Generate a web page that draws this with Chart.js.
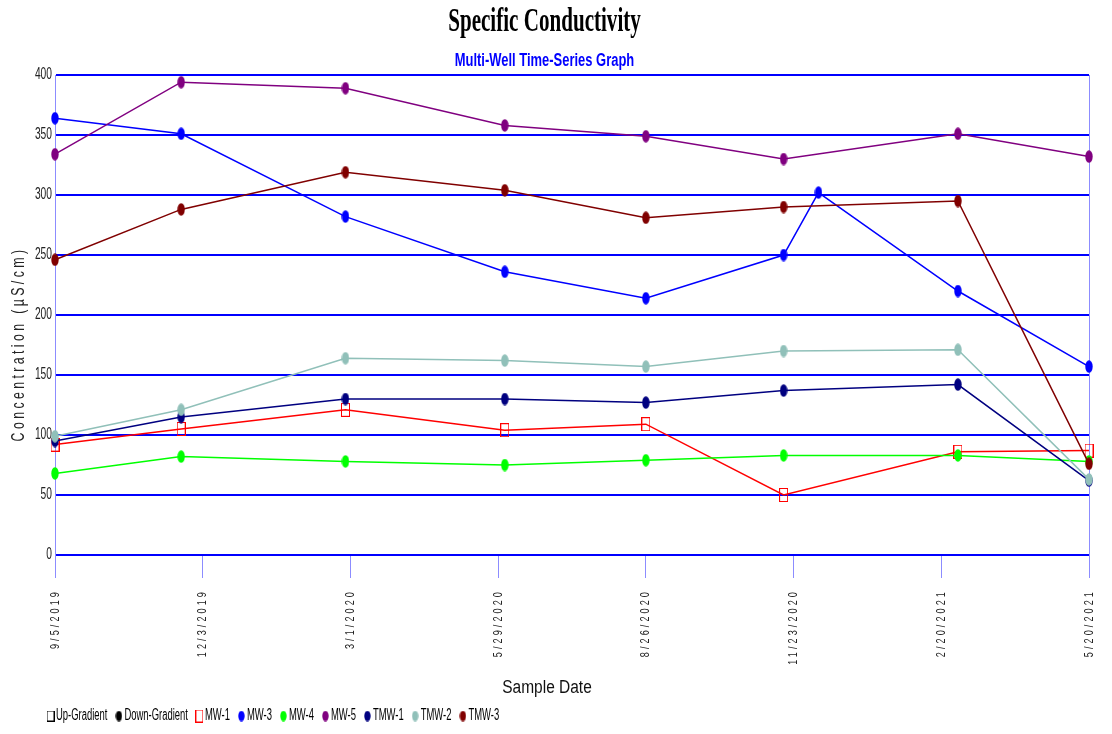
<!DOCTYPE html>
<html>
<head>
<meta charset="utf-8">
<title>Specific Conductivity</title>
<script src="https://cdn.jsdelivr.net/npm/chart.js@4.4.1/dist/chart.umd.min.js"></script>
<style>
  html, body { margin: 0; padding: 0; background: #fff; }
  #chart { display: block; }
</style>
</head>
<body>
<canvas id="chart" width="1112" height="734"></canvas>
<script>
// sample dates (most wells share them, MW-3 has one extra in Dec 2020)
const sampleDates = ["2019-09-05", "2019-11-20", "2020-02-27", "2020-06-02", "2020-08-26", "2020-11-17", "2021-03-02", "2021-05-20"];
const mw3Dates = ["2019-09-05", "2019-11-20", "2020-02-27", "2020-06-02", "2020-08-26", "2020-11-17", "2020-12-08", "2021-03-02", "2021-05-20"];
const tickDates = ["2019-09-05", "2019-12-03", "2020-03-01", "2020-05-29", "2020-08-26", "2020-11-23", "2021-02-20", "2021-05-20"];

// uS/cm
const mw1 = [92, 105, 121, 104, 109, 50, 86, 87];
const mw3 = [364, 351, 282, 236, 214, 250, 302, 220, 157];
const mw4 = [68, 82, 78, 75, 79, 83, 83, 78];
const mw5 = [334, 394, 389, 358, 349, 330, 351, 332];
const tmw1 = [95, 115, 130, 130, 127, 137, 142, 62];
const tmw2 = [99, 121, 164, 162, 157, 170, 171, 63];
const tmw3 = [246, 288, 319, 304, 281, 290, 295, 76];

const TITLE = "Specific Conductivity";
const SUBTITLE = "Multi-Well Time-Series Graph";
const SANS = "'Liberation Sans', Arial, sans-serif";
const SERIF = "'Liberation Serif', 'Times New Roman', serif";

const dayNum = (s) => {
  const [y, m, d] = s.split("-").map(Number);
  return Date.UTC(y, m - 1, d) / 86400000;
};
const fmtDay = (v) => {
  const d = new Date(v * 86400000);
  return `${d.getUTCMonth() + 1}/${d.getUTCDate()}/${d.getUTCFullYear()}`;
};
const toXY = (dates, vals) => dates.map((d, i) => ({ x: dayNum(d), y: vals[i] }));

// markers look like tall ellipses in the original
const ellipseMark = (color, w = 8, h = 13) => {
  const c = document.createElement("canvas");
  c.width = w;
  c.height = h;
  const g = c.getContext("2d");
  g.fillStyle = color;
  g.beginPath();
  g.ellipse(w / 2, h / 2, w / 2 - 0.3, h / 2 - 0.3, 0, 0, Math.PI * 2);
  g.fill();
  return c;
};
const boxMark = (color, w = 9, h = 14) => {
  const c = document.createElement("canvas");
  c.width = w;
  c.height = h;
  const g = c.getContext("2d");
  g.strokeStyle = color;
  g.lineWidth = 1;
  g.strokeRect(0.5, 0.5, w - 1, h - 1);
  return c;
};

const series = [
  { label: "MW-1", dates: sampleDates, values: mw1, color: "#ff0000", mark: boxMark("#ff0000") },
  { label: "MW-3", dates: mw3Dates, values: mw3, color: "#0000ff" },
  { label: "MW-4", dates: sampleDates, values: mw4, color: "#00ff00" },
  { label: "MW-5", dates: sampleDates, values: mw5, color: "#800080" },
  { label: "TMW-1", dates: sampleDates, values: tmw1, color: "#000080" },
  { label: "TMW-2", dates: sampleDates, values: tmw2, color: "#90c0b9" },
  { label: "TMW-3", dates: sampleDates, values: tmw3, color: "#800000" }
];

const datasets = series.map((s, i) => ({
  label: s.label,
  data: toXY(s.dates, s.values),
  borderColor: s.color,
  backgroundColor: s.color,
  borderWidth: 1.5,
  tension: 0,
  pointStyle: s.mark || ellipseMark(s.color),
  pointRadius: 5,
  clip: false,
  order: series.length - i
}));

// the original uses a very condensed font: squeeze text in its own frame (k),
// space the letters (sp) and nudge it along the text direction (dx)
const squeeze = (obj, method, k, sp = 0, dx = 0) => {
  const orig = obj[method];
  obj[method] = function (...args) {
    const ctx = this.ctx;
    const fill = ctx.fillText;
    const measure = ctx.measureText;
    ctx.fillText = function (text, x, y, maxW) {
      this.save();
      this.translate(x + dx, y);
      this.scale(k, 1);
      this.letterSpacing = sp + "px";
      if (maxW === undefined) fill.call(this, text, 0, 0);
      else fill.call(this, text, 0, 0, maxW / k);
      this.restore();
    };
    ctx.measureText = function (text) {
      const m = measure.call(this, text);
      return {
        width: m.width * k,
        actualBoundingBoxAscent: m.actualBoundingBoxAscent,
        actualBoundingBoxDescent: m.actualBoundingBoxDescent
      };
    };
    try {
      orig.apply(this, args);
    } finally {
      delete ctx.fillText;
      delete ctx.measureText;
    }
  };
};

const condensed = {
  id: "condensed",
  beforeDraw(chart) {
    if (chart._condensed) return;
    chart._condensed = true;
    chart.boxes.forEach((box) => {
      if (box === chart.scales.x) {
        squeeze(box, "drawLabels", 0.7, 4.4);
        squeeze(box, "drawTitle", 0.86, 0, -25);
      } else if (box === chart.scales.y) {
        squeeze(box, "drawLabels", 0.64);
        squeeze(box, "drawTitle", 0.65, 5.2, -29);
      } else if (box === chart.legend) {
        squeeze(box, "draw", 0.59, 0, -3);
      } else if (box.options && box.options.text === TITLE) {
        squeeze(box, "draw", 0.62);
      } else if (box.options && box.options.text === SUBTITLE) {
        squeeze(box, "draw", 0.72);
      }
    });
  }
};

const legendShift = {
  id: "legendShift",
  afterLayout(chart) {
    chart.legend.left = 42;
  }
};

const lastTick = tickDates.length - 1;

new Chart(document.getElementById("chart"), {
  type: "line",
  data: { datasets },
  options: {
    responsive: false,
    animation: false,
    devicePixelRatio: 1,
    layout: { padding: { right: 23 } },
    plugins: {
      title: {
        display: true,
        text: TITLE,
        color: "#000",
        font: { family: SERIF, size: 34, weight: "bold" },
        padding: { top: 1.6, bottom: 0 }
      },
      subtitle: {
        display: true,
        text: SUBTITLE,
        color: "#0000ff",
        font: { family: SANS, size: 18, weight: "bold" },
        padding: { top: 7.8, bottom: 3.2 }
      },
      legend: {
        position: "bottom",
        align: "start",
        labels: {
          usePointStyle: true,
          pointStyleWidth: 1,
          color: "#111",
          padding: 8,
          font: { family: SANS, size: 16 },
          generateLabels: (chart) => [
            { text: "Up-Gradient", pointStyle: boxMark("#000", 8, 11), fillStyle: "#000", strokeStyle: "#000", lineWidth: 0 },
            { text: "Down-Gradient", pointStyle: ellipseMark("#000", 7, 11), fillStyle: "#000", strokeStyle: "#000", lineWidth: 0 },
            ...chart.data.datasets.map((ds, i) => ({
              text: ds.label,
              pointStyle: i === 0 ? boxMark(ds.borderColor, 8, 13) : ellipseMark(ds.borderColor, 7, 11),
              fillStyle: ds.borderColor,
              strokeStyle: ds.borderColor,
              lineWidth: 0,
              datasetIndex: i
            }))
          ]
        }
      },
      tooltip: { enabled: false }
    },
    scales: {
      x: {
        type: "linear",
        min: dayNum(tickDates[0]),
        max: dayNum(tickDates[lastTick]),
        afterBuildTicks: (s) => {
          s.ticks = tickDates.map((d) => ({ value: dayNum(d) }));
        },
        afterFit: (s) => {
          s.height = 145;
          s.paddingLeft = 0;
          s.paddingRight = 0;
        },
        ticks: {
          autoSkip: false,
          minRotation: 90,
          maxRotation: 90,
          padding: 11,
          color: "#222",
          font: { family: SANS, size: 13 },
          callback: (v) => fmtDay(v)
        },
        grid: {
          color: (c) => (c.index === lastTick ? "#8c8cff" : "rgba(0,0,0,0)"),
          tickColor: "#8c8cff",
          tickLength: 23,
          lineWidth: 1
        },
        border: { display: false },
        title: {
          display: true,
          text: "Sample Date",
          color: "#111",
          font: { family: SANS, size: 18 },
          padding: { top: 0, bottom: 1 }
        }
      },
      y: {
        min: 0,
        max: 400,
        afterFit: (s) => {
          s.width = 55;
        },
        ticks: {
          stepSize: 50,
          padding: 3,
          color: "#222",
          font: { family: SANS, size: 16 }
        },
        grid: { color: "#0000ff", lineWidth: 2, drawTicks: false },
        border: { color: "#8c8cff", width: 1 },
        title: {
          display: true,
          text: "Concentration (µS/cm)",
          color: "#222",
          font: { family: SANS, size: 19 },
          padding: { top: 7, bottom: 0 }
        }
      }
    }
  },
  plugins: [condensed, legendShift]
});
</script>
</body>
</html>
